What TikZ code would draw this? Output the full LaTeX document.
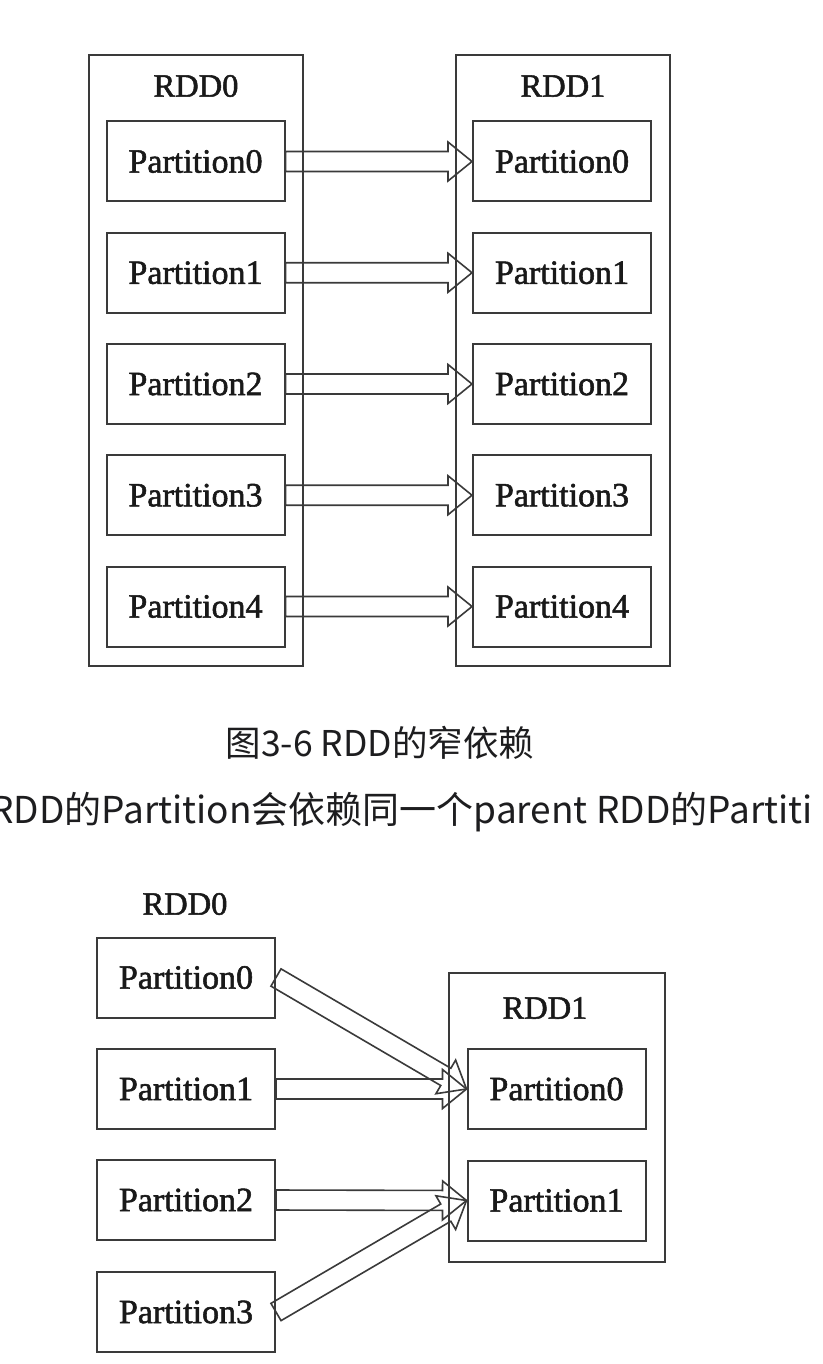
\documentclass[tikz,border=0pt]{standalone}
\usepackage{fontspec}
\setmainfont{Liberation Serif}
\newfontfamily\diagfont{Liberation Serif}[FakeBold=1.6]
\newfontfamily\cjk{Noto Sans CJK SC}
\usetikzlibrary{calc}
\definecolor{linegray}{HTML}{3A3A3A}
\definecolor{captext}{HTML}{1D1D1F}
\tikzset{
  container/.style={draw=linegray, line width=2pt, inner sep=0pt},
  partbox/.style={draw=linegray, line width=2pt, minimum width=178pt, minimum height=80pt, inner sep=0pt,
    font=\diagfont\fontsize{34}{40}\selectfont, text=black!90},
  rddlabel/.style={inner sep=0pt, font=\diagfont\fontsize{32.5}{38}\selectfont, text=black!90},
  arrowline/.style={draw=linegray, line width=1.6pt, line join=miter},
  captionA/.style={inner sep=0pt, anchor=base, text=captext, font=\cjk\fontsize{35.5}{42}\selectfont},
  captionB/.style={inner sep=0pt, anchor=base west, text=captext, font=\cjk\fontsize{37}{44}\selectfont}
}
\newcommand\hollowarrow[2]{%
  \coordinate (hac) at ($(#2)!24pt!(#1)$);
  \draw[arrowline] ($(#1)!10pt!90:(#2)$) -- ($(hac)!10pt!-90:(#1)$) -- ($(hac)!19.5pt!-90:(#1)$)
    -- (#2) -- ($(hac)!19.5pt!90:(#1)$) -- ($(hac)!10pt!90:(#1)$) -- ($(#1)!10pt!-90:(#2)$) -- cycle;
}
\begin{document}
\begin{tikzpicture}[x=1pt,y=-1pt]
\useasboundingbox (0,0) rectangle (822,1364);
\clip (0,0) rectangle (822,1364);
\fill[white] (0,0) rectangle (822,1364);

% ---------- top diagram ----------
\node[container, minimum width=214pt, minimum height=611pt] (ta) at (196,360.5) {};
\node[container, minimum width=214pt, minimum height=611pt] (tb) at (563,360.5) {};
\node[rddlabel] (tal) at (196,86) {RDD0};
\node[rddlabel] (tbl) at (563,86) {RDD1};
\foreach \i/\y in {0/161.5,1/272.75,2/384,3/495.25,4/606.5}{
  \node[partbox] (tl\i) at (195.5,\y) {Partition\i};
  \node[partbox] (tr\i) at (562,\y) {Partition\i};
}
\foreach \i in {0,...,4}{ \hollowarrow{tl\i.east}{tr\i.west} }

% ---------- captions ----------
\node[captionA] (cap1) at (380,756) {图3-6 RDD的窄依赖};
\node[captionB] (cap2) at (-10,823) {RDD的Partition会依赖同一个parent RDD的Partiti};

% ---------- bottom diagram ----------
\node[rddlabel] (bal) at (185,904) {RDD0};
\foreach \i/\y in {0/977.5,1/1089,2/1200,3/1312}{
  \node[partbox] (bl\i) at (186,\y) {Partition\i};
}
\node[container, minimum width=216pt, minimum height=289pt] (bb) at (557,1117.5) {};
\node[rddlabel] (bbl) at (545,1008) {RDD1};
\node[partbox] (br0) at (556.5,1089) {Partition0};
\node[partbox] (br1) at (556.5,1200.5) {Partition1};
\hollowarrow{bl0.east}{br0.west}
\hollowarrow{bl1.east}{br0.west}
\hollowarrow{bl2.east}{br1.west}
\hollowarrow{bl3.east}{br1.west}
\end{tikzpicture}
\end{document}
